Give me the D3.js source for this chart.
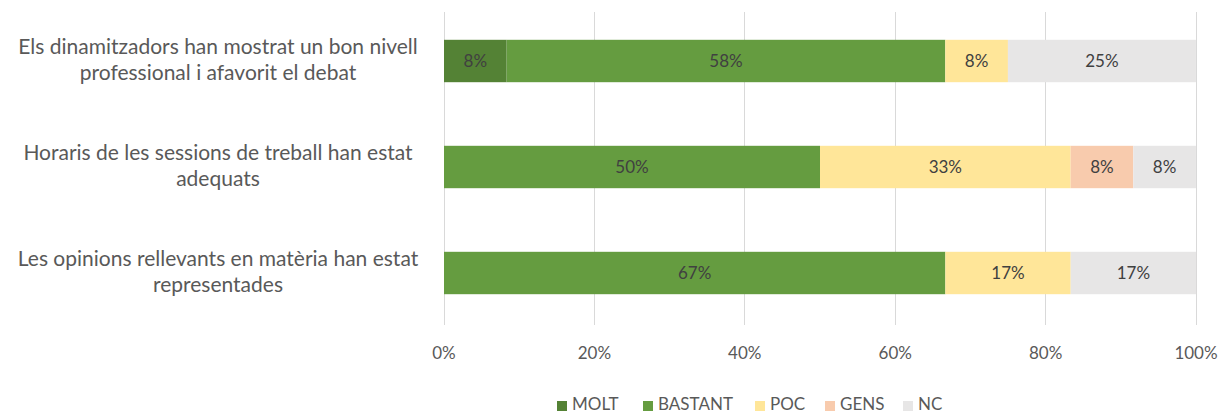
<!DOCTYPE html>
<html><head><meta charset="utf-8">
<script src="https://cdn.jsdelivr.net/npm/d3@7"></script>
<style>body{margin:0;background:#fff}svg{display:block}</style>
</head><body><svg id="c" width="1220" height="414"></svg>
<script>
const categories = [
  ["Els dinamitzadors han mostrat un bon nivell", "professional i afavorit el debat"],
  ["Horaris de les sessions de treball han estat", "adequats"],
  ["Les opinions rellevants en matèria han estat", "representades"]
];
const seriesNames = ["MOLT", "BASTANT", "POC", "GENS", "NC"];
const molt    = [8.33, 0, 0];
const bastant = [58.33, 50, 66.67];
const poc     = [8.33, 33.33, 16.67];
const gens    = [0, 8.33, 0];
const nc      = [25, 8.33, 16.67];
const tickValues = [0, 20, 40, 60, 80, 100];
const colors = ["#548235", "#659c40", "#ffe699", "#f8cbad", "#e7e6e6"];

const svg = d3.select("#c");
const font = "Lato, 'Open Sans', sans-serif";
const x = d3.scaleLinear().domain([0, 100]).range([444, 1196]);
const y = d3.scaleBand().domain(d3.range(categories.length)).range([8, 326]).paddingInner(0.6).paddingOuter(0.3);

const rows = categories.map((c, i) => ({i, MOLT: molt[i], BASTANT: bastant[i], POC: poc[i], GENS: gens[i], NC: nc[i]}));
const stacked = d3.stack().keys(seriesNames)(rows);

// gridlines
svg.append("g").selectAll("line").data(tickValues).join("line")
  .attr("x1", d => x(d)).attr("x2", d => x(d)).attr("y1", 12).attr("y2", 325)
  .attr("stroke", "#d9d9d9").attr("stroke-width", 1).attr("shape-rendering", "crispEdges");

// bars
const g = svg.append("g").selectAll("g").data(stacked).join("g").attr("fill", (d, i) => colors[i]);
g.selectAll("rect").data(d => d.filter(p => p[1] - p[0] > 0)).join("rect")
  .attr("x", d => x(d[0])).attr("width", d => x(d[1]) - x(d[0]))
  .attr("y", d => y(d.data.i)).attr("height", y.bandwidth());
g.selectAll("text").data(d => d.filter(p => p[1] - p[0] > 0)).join("text")
  .attr("x", d => (x(d[0]) + x(d[1])) / 2).attr("y", d => y(d.data.i) + y.bandwidth() / 2 + 6)
  .attr("text-anchor", "middle").attr("fill", "#404040").attr("font-family", font).attr("font-size", 17)
  .text(d => Math.round(d[1] - d[0]) + "%");

// category labels
const cl = svg.append("g").selectAll("text").data(categories).join("text")
  .attr("text-anchor", "middle").attr("fill", "#595959").attr("font-family", font).attr("font-size", 21);
cl.each(function(lines, i) {
  const t = d3.select(this);
  const cy = y(i) + y.bandwidth() / 2;
  lines.forEach((ln, k) => {
    t.append("tspan").attr("x", 218).attr("y", cy - 7 + k * 26).text(ln);
  });
});

// x axis tick labels
svg.append("g").selectAll("text").data(tickValues).join("text")
  .attr("x", d => x(d)).attr("y", 359).attr("text-anchor", "middle")
  .attr("fill", "#595959").attr("font-family", font).attr("font-size", 17)
  .text(d => d + "%");

// legend
const legendX = [557, 643, 755, 825, 903];
const lg = svg.append("g").selectAll("g").data(seriesNames).join("g")
  .attr("transform", (d, i) => `translate(${legendX[i]},0)`);
lg.append("rect").attr("x", 0).attr("y", 401).attr("width", 10).attr("height", 10).attr("fill", (d, i) => colors[i]);
lg.append("text").attr("x", 15).attr("y", 410).attr("fill", "#595959").attr("font-family", font).attr("font-size", 17).text(d => d);
</script></body></html>
